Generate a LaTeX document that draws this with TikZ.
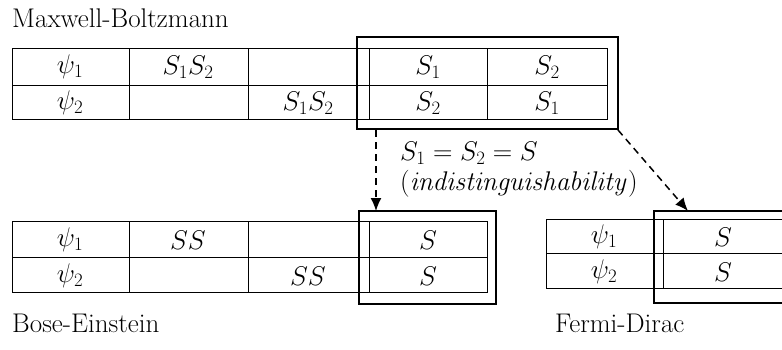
\documentclass[tikz,border=0pt]{standalone}
\usepackage{fix-cm}
\usetikzlibrary{arrows.meta}
\tikzset{
  grid/.style={line width=1pt},
  frame/.style={line width=2pt},
  link/.style={line width=1.5pt,dash pattern=on 7pt off 5pt,-{Latex[length=13pt,width=11pt]}},
  title/.style={anchor=base west,inner sep=0pt}
}
\begin{document}
\begin{tikzpicture}[x=1pt,y=-1pt]
  \fontsize{27}{32}\selectfont
  \useasboundingbox (0,0) rectangle (782,349);

  % Maxwell-Boltzmann
  \node [title] (mbtitle) at (12,27) {Maxwell-Boltzmann};
  \draw [grid] (12,48) rectangle (607,119);
  \draw [grid] (12,85) -- (607,85);
  \foreach \x in {129,248,369,487}
    \draw [grid] (\x,48) -- (\x,119);
  \node (mbpa) at (70,67) {$\psi_1$};
  \node (mbpb) at (70,103) {$\psi_2$};
  \node (mbaa) at (188,67) {$S_1S_2$};
  \node (mbbb) at (308,103) {$S_1S_2$};
  \node (mbac) at (428,67) {$S_1$};
  \node (mbad) at (547,67) {$S_2$};
  \node (mbbc) at (428,103) {$S_2$};
  \node (mbbd) at (547,103) {$S_1$};
  \draw [frame] (357,37) rectangle (618,129);
  \coordinate (mbleft) at (376,130);
  \coordinate (mbright) at (618,130);

  \node [anchor=west,inner sep=0pt] (rule) at (400,153) {$S_1 = S_2 = S$};
  \node [anchor=west,inner sep=0pt] (why) at (400,184) {$(\mathit{indistinguishability})$};

  % Bose-Einstein
  \draw [grid] (12,221) rectangle (487,292);
  \draw [grid] (12,257) -- (487,257);
  \foreach \x in {129,248,369}
    \draw [grid] (\x,221) -- (\x,292);
  \node (bepa) at (70,240) {$\psi_1$};
  \node (bepb) at (70,276) {$\psi_2$};
  \node (beaa) at (188,240) {$SS$};
  \node (bebb) at (308,276) {$SS$};
  \node (beac) at (428,240) {$S$};
  \node (bebc) at (428,276) {$S$};
  \draw [frame] (359,211) rectangle (496,304);
  \coordinate (betop) at (376,211);
  \node [title] (betitle) at (12,332) {Bose-Einstein};

  % Fermi-Dirac
  \draw [grid] (546,219) rectangle (783,288);
  \draw [grid] (546,253) -- (783,253);
  \draw [grid] (663,219) -- (663,288);
  \node (fdpa) at (604,237) {$\psi_1$};
  \node (fdpb) at (604,272) {$\psi_2$};
  \node (fdac) at (723,237) {$S$};
  \node (fdbc) at (723,272) {$S$};
  \draw [frame] (654,211) rectangle (792,303);
  \coordinate (fdtop) at (688,211);
  \node [title] (fdtitle) at (555,332) {Fermi-Dirac};

  \draw [link] (mbleft) -- (betop);
  \draw [link] (mbright) -- (fdtop);
\end{tikzpicture}
\end{document}
